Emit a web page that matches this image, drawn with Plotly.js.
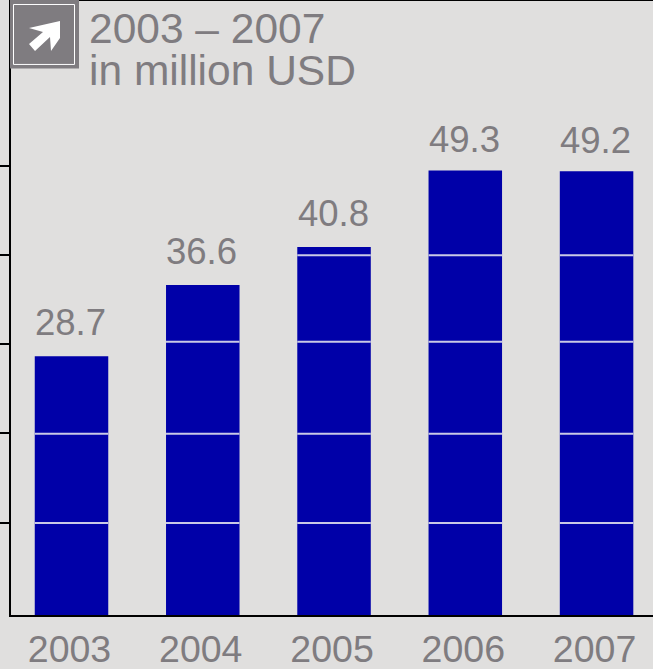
<!DOCTYPE html>
<html><head><meta charset="utf-8">
<script src="https://cdn.plot.ly/plotly-3.0.0.min.js"></script>
<style>html,body{margin:0;padding:0;background:#e0dfde}</style></head>
<body><div id="c" style="width:653px;height:669px"></div>
<script>
var years=['2003','2004','2005','2006','2007'];
var values=[28.7,36.6,40.8,49.3,49.2];
var labels=['28.7','36.6','40.8','49.3','49.2'];
var gridLevels=[10.2,20.1,30.3,39.9];
var tickLevels=[10.2,20.2,30,39.9,49.8];
var titleLines=['2003 – 2007','in million USD'];
var W=653,H=669,L=11,B=53.5,barW=0.56;
var gray='#7f7c80';
var fam='Liberation Sans, Arial, sans-serif';
function px(x){return (x-L)/(W-L);} function py(y){return 1-y/(H-B);}
var shapes=[];
gridLevels.forEach(function(g){
  values.forEach(function(v,i){
    if(v>g) shapes.push({type:'line',xref:'x',yref:'y',x0:i-barW/2,x1:i+barW/2,y0:g,y1:g,line:{color:'#c9c9e6',width:2}});
  });
});
shapes.push({type:'line',xref:'paper',yref:'paper',x0:0,x1:1,y0:1,y1:1,line:{color:'#000',width:2}});
// icon
function abs(pts){return 'M'+pts.map(function(p){return px(p[0])+','+py(p[1]);}).join('L')+'Z';}
shapes.push({type:'rect',xref:'paper',yref:'paper',x0:px(10),x1:px(79),y0:py(68.5),y1:py(-1),fillcolor:gray,line:{width:0}});
shapes.push({type:'rect',xref:'paper',yref:'paper',x0:px(13.5),x1:px(74.5),y0:py(64.5),y1:py(4.5),fillcolor:gray,line:{color:'#fff',width:1}});
shapes.push({type:'path',xref:'paper',yref:'paper',path:abs([[29,28],[60,21],[60,38],[51,51],[50,37],[35,51],[29,44],[43,32]]),fillcolor:'#fff',line:{width:0}});
var ann=values.map(function(v,i){return {x:i,y:v,xref:'x',yref:'y',text:labels[i],showarrow:false,yanchor:'bottom',xshift:-1,yshift:v>45?8:11,font:{family:fam,size:36.5,color:gray}};});
titleLines.forEach(function(t,i){
  ann.push({xref:'paper',yref:'paper',x:px(87),y:py(29+42*i),xanchor:'left',yanchor:'middle',align:'left',text:t,showarrow:false,font:{family:fam,size:42.5,color:gray}});
});
Plotly.newPlot('c',[{type:'bar',x:[0,1,2,3,4],y:values,width:barW,marker:{color:'#0000a8',line:{width:0}},hoverinfo:'skip'}],{
  width:W,height:H,margin:{l:L,r:0,t:0,b:B,pad:0},paper_bgcolor:'#e0dfde',plot_bgcolor:'#e0dfde',showlegend:false,
  xaxis:{range:[-0.461,4.43],tickmode:'array',tickvals:[0,1,2,3,4],ticktext:years,ticks:'',showgrid:false,zeroline:false,showline:true,linecolor:'#000',linewidth:2,ticklabelshift:-2,tickfont:{family:fam,size:37.5,color:gray}},
  yaxis:{range:[0,68.2],tickmode:'array',tickvals:tickLevels,showticklabels:false,ticks:'outside',ticklen:10,tickcolor:'#000',tickwidth:2,showgrid:false,zeroline:false,showline:true,linecolor:'#000',linewidth:2},
  shapes:shapes,annotations:ann
},{displayModeBar:false,staticPlot:true});
</script></body></html>
